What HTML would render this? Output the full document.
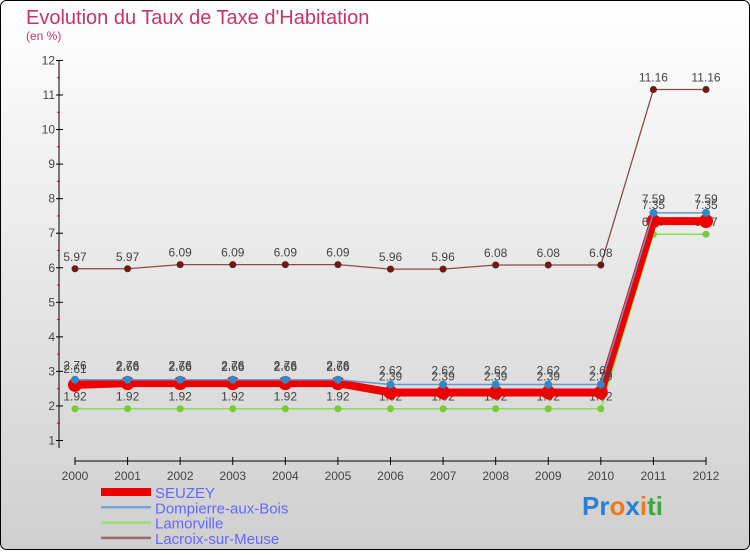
<!DOCTYPE html>
<html><head><meta charset="utf-8">
<style>
body{margin:0;width:750px;height:550px;overflow:hidden;font-family:"Liberation Sans",sans-serif}
</style></head>
<body>
<svg id="chart" width="750" height="550" xmlns="http://www.w3.org/2000/svg">
<defs><linearGradient id="bg" x1="0" y1="0" x2="0" y2="1"><stop offset="0" stop-color="#ffffff"/><stop offset="1" stop-color="#cfcfcf"/></linearGradient></defs>
<rect x="0.5" y="0.5" width="749" height="549" rx="6" fill="url(#bg)" stroke="#000"/>
<text x="26" y="24" font-size="20" fill="#c8336a">Evolution du Taux de Taxe d'Habitation</text>
<text x="26" y="40" font-size="12" fill="#c8336a">(en %)</text>
<g id="axes"></g>
<g id="series"></g>
<g id="legend"></g>
<text x="582" y="515" font-size="26" font-weight="bold"><tspan fill="#2b7fd4">Pr</tspan><tspan fill="#f07a1a">o</tspan><tspan fill="#2b7fd4">x</tspan><tspan fill="#f07a1a">i</tspan><tspan fill="#3aa83a">ti</tspan></text>
</svg>
<script>
const years=[2000,2001,2002,2003,2004,2005,2006,2007,2008,2009,2010,2011,2012];
const yTicks=[1,2,3,4,5,6,7,8,9,10,11,12];
const seuzey=[2.61,2.66,2.66,2.66,2.66,2.66,2.39,2.39,2.39,2.39,2.39,7.35,7.35];
const dompierre=[2.76,2.76,2.76,2.76,2.76,2.76,2.62,2.62,2.62,2.62,2.62,7.59,7.59];
const lamorville=[1.92,1.92,1.92,1.92,1.92,1.92,1.92,1.92,1.92,1.92,1.92,6.97,6.97];
const lacroix=[5.97,5.97,6.09,6.09,6.09,6.09,5.96,5.96,6.08,6.08,6.08,11.16,11.16];
const NS="http://www.w3.org/2000/svg";
const X=i=>75+i*(706-75)/(years.length-1);
const Y=v=>440.5-(v-1)*34.55;
function mk(t,a,p){const e=document.createElementNS(NS,t);for(const k in a)e.setAttribute(k,a[k]);p.appendChild(e);return e;}
const ax=document.getElementById('axes');
let l=mk('line',{x1:59,y1:60,x2:59,y2:448,stroke:'#000'},ax);

l=mk('line',{x1:75,y1:461,x2:706,y2:461,stroke:'#000'},ax);

yTicks.forEach(v=>{
  mk('line',{x1:56,y1:Y(v),x2:63,y2:Y(v),stroke:'#000'},ax);
  if(v<12)mk('line',{x1:57,y1:Y(v+0.5),x2:60,y2:Y(v+0.5),stroke:'#e00'},ax);
  const t=mk('text',{x:55,y:Y(v)+4,'font-size':12,fill:'#444','text-anchor':'end'},ax);t.textContent=v;
  
});
years.forEach((yr,i)=>{
  mk('line',{x1:X(i),y1:457,x2:X(i),y2:465,stroke:'#000'},ax);
  const t=mk('text',{x:X(i),y:480,'font-size':12,fill:'#444','text-anchor':'middle'},ax);t.textContent=yr;
  
});
const sg=document.getElementById('series');
function series(name,vals,color,w,r,dot,lab){
  const g=mk('g',{},sg);
  
  
  mk('polyline',{points:vals.map((v,i)=>X(i)+','+Y(v)).join(' '),fill:'none',stroke:color,'stroke-width':w},g);
  vals.forEach((v,i)=>{
    const c=mk('circle',{cx:X(i),cy:Y(v),r:r,fill:dot},g);
    
    
    const t=mk('text',{x:X(i),y:Y(v)-lab,'font-size':12,fill:'#444','text-anchor':'middle'},g);
    t.textContent=String(v);
  });
}
series('lacroix',lacroix,'#8a4a4a',1.3,3.5,'#6b1a1a',8);
series('lamorville',lamorville,'#88dd55',1.5,3.5,'#77cc33',8);
series('seuzey',seuzey,'#ee0000',8,7,'#ee0000',12);
series('dompierre',dompierre,'#6699cc',1.5,4,'#3388cc',10);
const lg=document.getElementById('legend');
const names=['SEUZEY','Dompierre-aux-Bois','Lamorville','Lacroix-sur-Meuse'];
const cols=['#ee0000','#7aa7d0','#99dd77','#9a6a6a'];
names.forEach((n,i)=>{
  const y=492+i*15.3;
  const g=mk('g',{},lg);
  
  
  mk('line',{x1:101,y1:y,x2:151,y2:y,stroke:cols[i],'stroke-width':i==0?8:2.5},g);
  const t=mk('text',{x:155,y:y+6,'font-size':15,fill:'#6666ff'},g);t.textContent=n;
});
</script>
</body></html>
